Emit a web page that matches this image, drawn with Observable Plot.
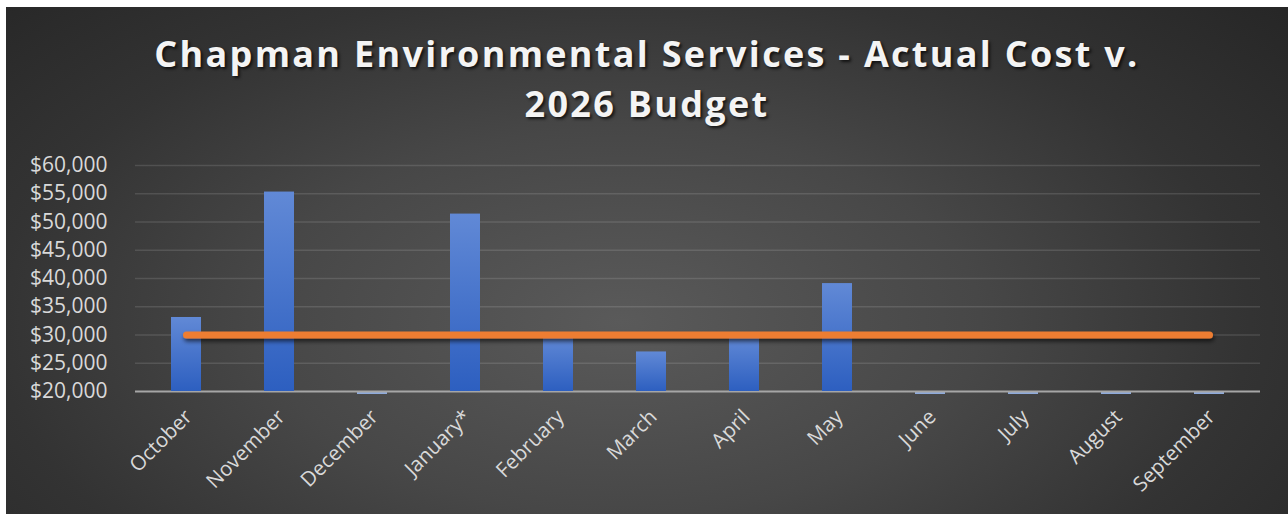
<!DOCTYPE html>
<html><head><meta charset="utf-8">
<script src="https://cdn.jsdelivr.net/npm/d3@7"></script>
<script src="https://cdn.jsdelivr.net/npm/@observablehq/plot@0.6"></script>
<style>
html,body{margin:0;padding:0;background:#fff;width:1288px;height:514px;overflow:hidden;}
#chart{position:absolute;left:6px;top:7px;width:1282px;height:507px;overflow:hidden;
  background:radial-gradient(ellipse 70% 95% at 48% 62%, #5a5a5a 0%, #474747 40%, #333 70%, #262626 100%);
  font-family:"Open Sans",sans-serif;}
#title{position:absolute;left:0;width:1282px;top:22px;text-align:center;color:#f4f4f4;font-weight:bold;
  font-size:36px;letter-spacing:2.3px;line-height:50px;text-shadow:2px 2px 3px rgba(0,0,0,0.7);}
#plot{position:absolute;left:-6px;top:143px;}
</style></head>
<body>
<div id="chart">
  <div id="title">Chapman Environmental Services - Actual Cost v.<br>2026 Budget</div>
  <div id="plot"></div>
</div>
<script>
const months = ["October","November","December","January*","February","March","April","May","June","July","August","September"];
const actual = [33100, 55300, 0, 51400, 29800, 27000, 29700, 39100, 0, 0, 0, 0];
const budget = [30000, 30000, 30000, 30000, 30000, 30000, 30000, 30000, 30000, 30000, 30000, 30000];
const yTicks = [20000, 25000, 30000, 35000, 40000, 45000, 50000, 55000, 60000];
const yMin = 20000, yMax = 60000;

const data = months.map((m, i) => ({month: m, actual: actual[i], budget: budget[i]}));
const withCost = data.filter(d => d.actual > 0);
const zeroCost = data.filter(d => d.actual === 0);

const plot = Plot.plot({
  width: 1288,
  height: 364,
  marginTop: 15,
  marginBottom: 123,
  marginLeft: 135,
  marginRight: 28,
  style: {background: "transparent", color: "#d9d9d9", fontFamily: "'Open Sans', sans-serif", fontSize: "19px", overflow: "visible"},
  x: {domain: months, paddingInner: 0.68, paddingOuter: 0.34, label: null},
  y: {domain: [yMin, yMax], label: null},
  marks: [
    Plot.ruleY(yTicks.filter(t => t > yMin), {stroke: "#ffffff", strokeOpacity: 0.12, strokeWidth: 1.5}),
    Plot.barY(zeroCost, {x: "month", y1: () => yMin, y2: () => yMin, insetBottom: -3, fill: "#8eaadb"}),
    Plot.ruleY([yMin], {stroke: "#a6a6a6", strokeWidth: 2}),
    Plot.barY(withCost, {x: "month", y1: () => yMin, y2: "actual", fill: "url(#barGrad)"}),
    Plot.line(data, {x: "month", y: "budget", stroke: "#ED7D31", strokeWidth: 7, strokeLinecap: "round"}),
    Plot.axisY(yTicks, {tickSize: 0, tickPadding: 28, tickFormat: d3.format("$,"), fill: "#d9d9d9", fontSize: 21}),
    Plot.axisX({tickSize: 0, tickRotate: -45, tickPadding: 22, dx: 2, fill: "#d9d9d9", fontSize: 20.5})
  ]
});

const svg = d3.select(plot);
const defs = svg.insert("defs", ":first-child");
const g = defs.append("linearGradient").attr("id", "barGrad").attr("x1", 0).attr("y1", 0).attr("x2", 0).attr("y2", 1);
g.append("stop").attr("offset", "0%").attr("stop-color", "#6189d6");
g.append("stop").attr("offset", "100%").attr("stop-color", "#2d5fc0");
defs.append("filter").attr("id", "lineShadow").attr("filterUnits", "userSpaceOnUse")
  .attr("x", 0).attr("y", 0).attr("width", 1288).attr("height", 364)
  .append("feDropShadow").attr("dx", 1).attr("dy", 3).attr("stdDeviation", 2).attr("flood-color", "#000").attr("flood-opacity", 0.6);
svg.selectAll("g[aria-label=line]").attr("filter", "url(#lineShadow)");

document.getElementById("plot").appendChild(plot);
</script>
</body></html>
